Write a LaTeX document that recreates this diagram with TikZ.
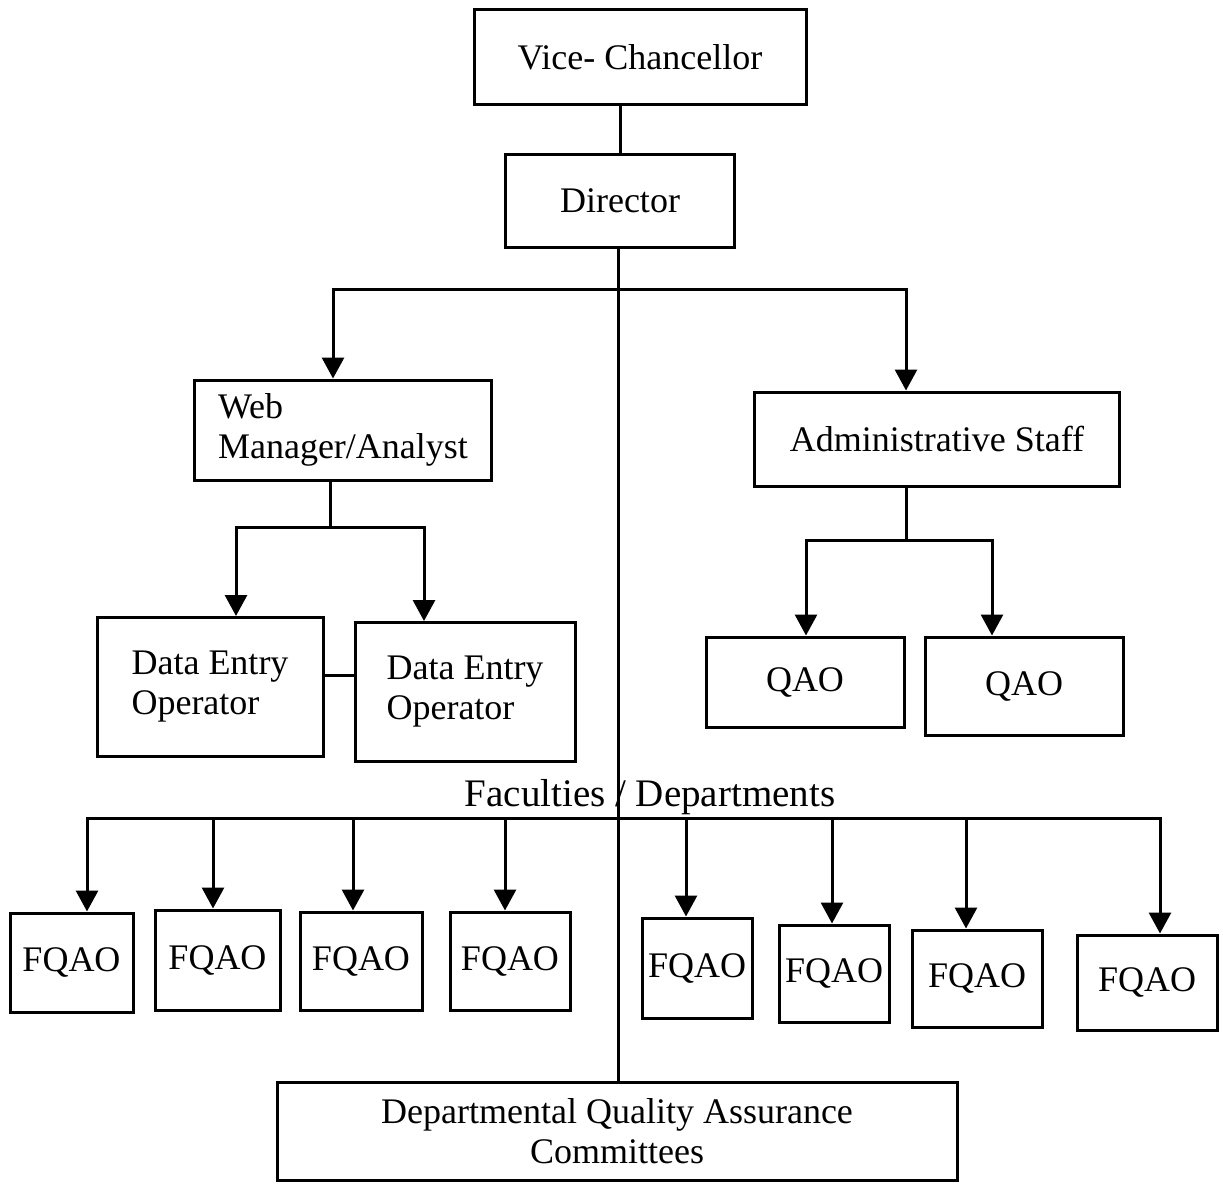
\documentclass[tikz,border=0pt]{standalone}
\usepackage{fontspec}
\setmainfont{Liberation Serif}
\usetikzlibrary{arrows.meta}
\tikzset{>=stealth}

\begin{document}
\begin{tikzpicture}[x=1pt,y=-1pt,
		box/.style={draw,line width=3pt,inner sep=0pt,font=\fontsize{36}{40}\selectfont},
		link/.style={line width=3pt},
		arrow/.style={line width=3pt,-{Triangle[width=22pt,length=21pt]}}]
			\useasboundingbox (0,0) rectangle (1223,1190);
			\node [box,minimum width=332,minimum height=95] (vc) at (640,57) {Vice- Chancellor};
			\node [box,minimum width=229,minimum height=93] (dir) at (620,201) {Director};
			\node [box,minimum width=297,minimum height=100,align=left] (web) at (343,430) {Web\\Manager/Analyst};
			\node [box,minimum width=365,minimum height=94] (adm) at (937,439) {Administrative Staff};
			\node [box,minimum width=226,minimum height=139,align=left] (deo1) at (210,687) {Data Entry\\Operator};
			\node [box,minimum width=220,minimum height=139,align=left] (deo2) at (465,692) {Data Entry\\Operator};
			\node [box,minimum width=198,minimum height=90] (qao1) at (805,682) {QAO};
			\node [box,minimum width=198,minimum height=98] (qao2) at (1024,686) {QAO};
			\node [font=\fontsize{39}{44}\selectfont] (fac) at (650,797) {Faculties / Departments};
			\node [box,minimum width=680,minimum height=98,align=center] (dqac) at (617,1131) {Departmental Quality Assurance\\Committees};
			\coordinate (dj) at (618,290);
			\coordinate (wj) at (330,527);
			\coordinate (aj) at (906,540);
			\coordinate (fj) at (618,818);
			\draw [link] (vc.south -| dir.north) -- (dir.north);
			\draw [link] (dir.south -| dj) -- (dj |- dqac.north);
			\draw [arrow] (dj) -| ([xshift=-10pt]web.north);
			\draw [arrow] (dj) -| ([xshift=-31pt]adm.north);
			\draw [link] (web.south -| wj) -- (wj);
			\draw [arrow] (wj) -| ([xshift=26pt]deo1.north);
			\draw [arrow] (wj) -| ([xshift=-41pt]deo2.north);
			\draw [link] ([yshift=12pt]deo1.east) -- ([yshift=12pt]deo1.east -| deo2.west);
			\draw [link] (adm.south -| aj) -- (aj);
			\draw [arrow] (aj) -| ([xshift=1pt]qao1.north);
			\draw [arrow] (aj) -| ([xshift=-32pt]qao2.north);
			\foreach \i/\cx/\cy/\w/\h/\ax in {1/71.5/962.5/123/99/87, 2/217.5/960/125/100/213, 3/361/961/122/98/353, 4/510/961/120/98/505, 5/697/968/110/100/686, 6/834/973.5/110/97/832, 7/977/978.5/130/97/966, 8/1147/982.5/140/95/1160}{
				\node [box,minimum width=\w,minimum height=\h] (fq\i) at (\cx,\cy) {FQAO};
				\coordinate (fa\i) at (\ax,818);
				\draw [arrow] (fj) -| (fa\i |- fq\i.north);
			}
		\end{tikzpicture}
\end{document}
